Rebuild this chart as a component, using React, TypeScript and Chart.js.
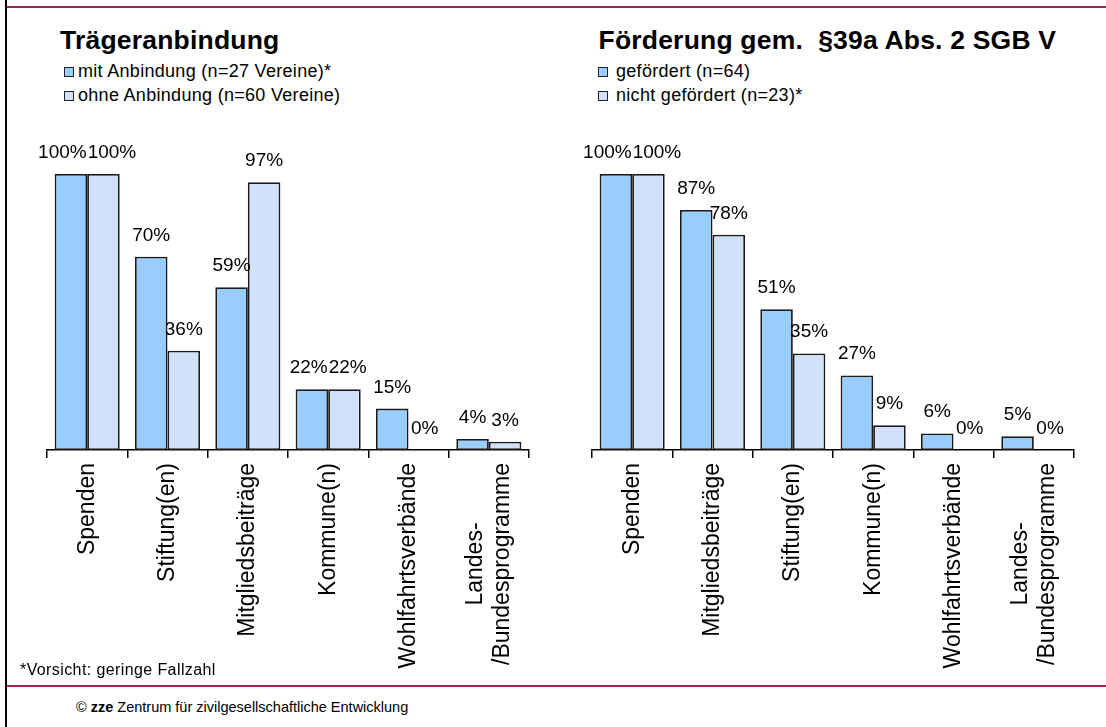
import React, { useEffect, useRef } from "react";
import { Chart, registerables } from "chart.js";

Chart.register(...registerables);

const FONT = "'Liberation Sans', Arial, Helvetica, sans-serif";

// ---- Left panel: Trägeranbindung ----
const leftTitle = "Trägeranbindung";
const leftCategories = [
  "Spenden",
  "Stiftung(en)",
  "Mitgliedsbeiträge",
  "Kommune(n)",
  "Wohlfahrtsverbände",
  ["Landes-", "/Bundesprogramme"],
];
const leftSeriesNames = ["mit Anbindung (n=27 Vereine)*", "ohne Anbindung (n=60 Vereine)"];
const leftWith = [100, 70, 59, 22, 15, 4];
const leftWithout = [100, 36, 97, 22, 0, 3];

// ---- Right panel: Förderung gem. §39a Abs. 2 SGB V ----
const rightTitle = "Förderung gem.  §39a Abs. 2 SGB V";
const rightCategories = [
  "Spenden",
  "Mitgliedsbeiträge",
  "Stiftung(en)",
  "Kommune(n)",
  "Wohlfahrtsverbände",
  ["Landes-", "/Bundesprogramme"],
];
const rightSeriesNames = ["gefördert (n=64)", "nicht gefördert (n=23)*"];
const rightFunded = [100, 87, 51, 27, 6, 5];
const rightNotFunded = [100, 78, 35, 9, 0, 0];

const yMax = 100;
const footnote = "*Vorsicht: geringe Fallzahl";

const COLOR_DARK = "#99ccff";
const COLOR_LIGHT = "#d2e1fa";
const MAROON = "#a0284c";

const valueLabelPlugin = {
  id: "valueLabels",
  afterDatasetsDraw(chart: any) {
    const ctx = chart.ctx;
    ctx.save();
    ctx.font = `19px ${FONT}`;
    ctx.fillStyle = "#000";
    ctx.textAlign = "center";
    ctx.textBaseline = "alphabetic";
    const n = chart.data.labels.length;
    const metas = chart.data.datasets.map((_: any, i: number) => chart.getDatasetMeta(i));
    for (let i = 0; i < n; i++) {
      const items = metas.map((m: any, d: number) => {
        const el = m.data[i];
        const v = chart.data.datasets[d].data[i];
        const text = `${v}%`;
        const w = ctx.measureText(text).width;
        return { text, x: el.x, y: el.y - 16, w };
      });
      if (items.length === 2) {
        const [a, b] = items;
        if (Math.abs(a.y - b.y) < 16) {
          const overlap = a.x + a.w / 2 - (b.x - b.w / 2) + 1;
          if (overlap > 0) {
            a.x -= overlap / 2;
            b.x += overlap / 2;
          }
        }
      }
      items.forEach((it: any) => ctx.fillText(it.text, it.x, it.y));
    }
    ctx.restore();
  },
};

const categoryLabelPlugin = {
  id: "categoryLabels",
  afterDraw(chart: any) {
    const ctx = chart.ctx;
    const xs = chart.scales.x;
    const baseY = chart.chartArea.bottom + 13;
    ctx.save();
    ctx.font = `23px ${FONT}`;
    ctx.fillStyle = "#000";
    ctx.textBaseline = "middle";
    ctx.textAlign = "center";
    const lh = 27;
    chart.data.labels.forEach((lab: any, i: number) => {
      const lines: string[] = Array.isArray(lab) ? lab : [lab];
      const maxW = Math.max(...lines.map((l) => ctx.measureText(l).width));
      const cx = xs.getPixelForValue(i);
      lines.forEach((line, j) => {
        const x = cx + (j - (lines.length - 1) / 2) * lh;
        ctx.save();
        ctx.translate(x, baseY + maxW / 2);
        ctx.rotate(-Math.PI / 2);
        ctx.fillText(line, 0, 0);
        ctx.restore();
      });
    });
    ctx.restore();
  },
};

type PanelProps = {
  left: number;
  categories: any[];
  names: string[];
  a: number[];
  b: number[];
};

function BarPanel({ left, categories, names, a, b }: PanelProps) {
  const ref = useRef<HTMLCanvasElement | null>(null);
  useEffect(() => {
    if (!ref.current) return;
    const chart = new Chart(ref.current, {
      type: "bar",
      data: {
        labels: categories,
        datasets: [
          {
            label: names[0],
            data: a,
            backgroundColor: COLOR_DARK,
            borderColor: "#1a1a1a",
            borderWidth: 1.8,
            borderSkipped: false,
          },
          {
            label: names[1],
            data: b,
            backgroundColor: COLOR_LIGHT,
            borderColor: "#1a1a1a",
            borderWidth: 1.8,
            borderSkipped: false,
          },
        ],
      },
      options: {
        animation: false,
        responsive: false,
        devicePixelRatio: 1,
        layout: { padding: { left: 27, right: 31, top: 44, bottom: 0 } },
        datasets: { bar: { barPercentage: 1, categoryPercentage: 0.81 } },
        plugins: { legend: { display: false }, tooltip: { enabled: false } },
        scales: {
          y: { display: false, min: 0, max: yMax },
          x: {
            offset: true,
            grid: {
              offset: true,
              drawOnChartArea: false,
              drawTicks: true,
              tickLength: 8,
              color: "#000",
              lineWidth: 1.5,
            },
            border: { display: true, color: "#000", width: 1.5 },
            ticks: { display: false },
            afterFit: (scale: any) => {
              scale.height = 235;
            },
          },
        },
      } as any,
      plugins: [valueLabelPlugin, categoryLabelPlugin],
    });
    return () => chart.destroy();
  }, []);
  return (
    <canvas
      ref={ref}
      width={540}
      height={555}
      style={{ position: "absolute", left, top: 130, width: 540, height: 555 }}
    />
  );
}

function LegendRow({ color, text, top, boxLeft, textLeft }: any) {
  return (
    <>
      <div
        style={{
          position: "absolute",
          left: boxLeft,
          top: top + 8,
          width: 8,
          height: 8,
          background: color,
          border: "1px solid #222",
        }}
      />
      <div
        style={{
          position: "absolute",
          left: textLeft,
          top,
          fontSize: 18,
          lineHeight: "24px",
          letterSpacing: "0.3px",
          whiteSpace: "nowrap",
          color: "#000",
        }}
      >
        {text}
      </div>
    </>
  );
}

export default function App() {
  return (
    <div
      style={{
        position: "fixed",
        left: 0,
        top: 0,
        width: 1106,
        height: 727,
        background: "#fff",
        fontFamily: FONT,
        overflow: "hidden",
      }}
    >
      <div style={{ position: "absolute", left: 5, top: 0, width: 2, height: 727, background: "#000" }} />
      <div style={{ position: "absolute", left: 7, top: 6, width: 1099, height: 2, background: MAROON }} />
      <div style={{ position: "absolute", left: 7, top: 685, width: 1099, height: 2, background: MAROON }} />

      <div
        style={{
          position: "absolute",
          left: 60,
          top: 27,
          fontSize: 26.5,
          lineHeight: "26.5px",
          fontWeight: "bold",
          letterSpacing: "0.2px",
          whiteSpace: "nowrap",
        }}
      >
        {leftTitle}
      </div>
      <LegendRow color={COLOR_DARK} text={leftSeriesNames[0]} top={58.5} boxLeft={64} textLeft={78} />
      <LegendRow color={COLOR_LIGHT} text={leftSeriesNames[1]} top={82.5} boxLeft={64} textLeft={78} />

      <div
        style={{
          position: "absolute",
          left: 598.5,
          top: 27,
          fontSize: 26.5,
          lineHeight: "26.5px",
          fontWeight: "bold",
          letterSpacing: "0.2px",
          whiteSpace: "pre",
        }}
      >
        {rightTitle}
      </div>
      <LegendRow color={COLOR_DARK} text={rightSeriesNames[0]} top={58.5} boxLeft={598} textLeft={616} />
      <LegendRow color={COLOR_LIGHT} text={rightSeriesNames[1]} top={82.5} boxLeft={598} textLeft={616} />

      <BarPanel left={20} categories={leftCategories} names={leftSeriesNames} a={leftWith} b={leftWithout} />
      <BarPanel left={565} categories={rightCategories} names={rightSeriesNames} a={rightFunded} b={rightNotFunded} />

      <div
        style={{
          position: "absolute",
          left: 20,
          top: 661.5,
          fontSize: 16,
          lineHeight: "16px",
          letterSpacing: "0.4px",
          whiteSpace: "nowrap",
        }}
      >
        {footnote}
      </div>
      <div
        style={{
          position: "absolute",
          left: 76,
          top: 700,
          fontSize: 14.5,
          lineHeight: "15px",
          whiteSpace: "nowrap",
        }}
      >
        © <b>zze</b> Zentrum für zivilgesellschaftliche Entwicklung
      </div>
    </div>
  );
}
